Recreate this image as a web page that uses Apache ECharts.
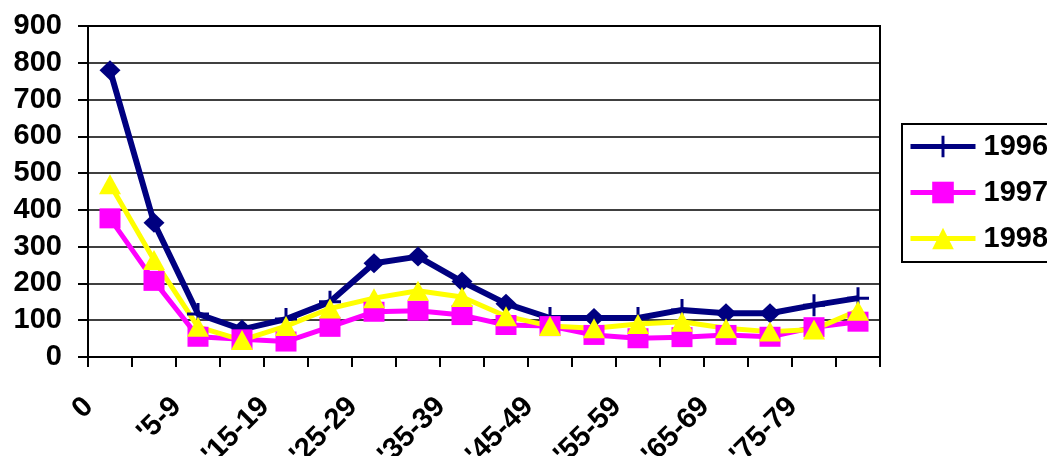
<!DOCTYPE html>
<html>
<head>
<meta charset="utf-8">
<script src="https://cdn.jsdelivr.net/npm/echarts@6/dist/echarts.min.js"></script>
<style>
html,body{margin:0;padding:0;background:#fff;}
#chart{width:1047px;height:456px;}
</style>
</head>
<body>
<div id="chart"></div>
<script>
// ---- data ----
const categories = ["0", "'1-4", "'5-9", "'10-14", "'15-19", "'20-24", "'25-29", "'30-34", "'35-39", "'40-44", "'45-49", "'50-54", "'55-59", "'60-64", "'65-69", "'70-74", "'75-79", "'80+"];
const seriesNames = ["1996", "1997", "1998"];
const values1996 = [780, 365, 117, 75, 103, 150, 255, 273, 205, 145, 106, 106, 106, 128, 119, 119, 141, 160];
const values1997 = [377, 207, 55, 48, 42, 82, 123, 126, 114, 87, 84, 60, 51, 54, 60, 55, 81, 96];
const values1998 = [470, 264, 82, 46, 84, 132, 160, 180, 163, 111, 84, 78, 90, 96, 78, 69, 75, 126];
const yTicks = { min: 0, max: 900, interval: 100 };

// style: which points of 1996 show a diamond instead of the plus marker
const diamondPoints1996 = [0, 1, 3, 6, 7, 8, 9, 11, 14, 15];
const plusPath = 'path://M9.5,0H12.5V9.5H22V12.5H12.5V22H9.5V12.5H0V9.5H9.5Z';
const FONT = '"Liberation Sans", Arial, sans-serif';

const chart = echarts.init(document.getElementById('chart'), null, { renderer: 'canvas' });

const data1996 = values1996.map((v, i) =>
  diamondPoints1996.indexOf(i) >= 0 ? { value: v, symbol: 'diamond', symbolSize: [21, 20] } : v);

chart.setOption({
  animation: false,
  backgroundColor: '#fff',
  grid: {
    left: 88, right: 167, top: 26, bottom: 99,
    outerBoundsMode: 'none', containLabel: false,
    show: true, borderColor: '#000', borderWidth: 2, backgroundColor: 'transparent'
  },
  legend: {
    orient: 'vertical',
    left: 902, top: 124,
    padding: [8, 40, 9, 6],
    borderColor: '#000', borderWidth: 2,
    itemWidth: 65, itemHeight: 27, itemGap: 17,
    lineStyle: { width: 5 },
    textStyle: { fontFamily: FONT, fontWeight: 'bold', fontSize: 29, color: '#000', lineHeight: 28, padding: [0, 0, 0, 3] },
    data: seriesNames
  },
  xAxis: {
    type: 'category',
    data: categories,
    boundaryGap: true,
    axisLine: { lineStyle: { color: '#000', width: 2 } },
    axisTick: { show: true, interval: 0, length: 10, lineStyle: { color: '#000', width: 2 } },
    axisLabel: {
      interval: 1, rotate: 45, margin: 24, padding: [0, 30, 0, 0],
      fontFamily: FONT, fontWeight: 'bold', fontSize: 29, color: '#000'
    },
    splitLine: { show: false }
  },
  yAxis: {
    type: 'value',
    min: yTicks.min, max: yTicks.max, interval: yTicks.interval,
    axisLine: { show: true, lineStyle: { color: '#000', width: 2 } },
    axisTick: { show: true, length: 10, lineStyle: { color: '#000', width: 2 } },
    axisLabel: { margin: 26, fontFamily: FONT, fontWeight: 'bold', fontSize: 29, color: '#000' },
    splitLine: { show: true, lineStyle: { color: '#000', width: 1.5 } }
  },
  series: [
    {
      name: seriesNames[0], type: 'line', data: data1996,
      symbol: plusPath, symbolSize: 22, showAllSymbol: true,
      itemStyle: { color: '#000080' },
      lineStyle: { color: '#000080', width: 6 }
    },
    {
      name: seriesNames[1], type: 'line', data: values1997,
      symbol: 'rect', symbolSize: [21, 20], showAllSymbol: true,
      itemStyle: { color: '#FF00FF' },
      lineStyle: { color: '#FF00FF', width: 5 }
    },
    {
      name: seriesNames[2], type: 'line', data: values1998,
      symbol: 'triangle', symbolSize: [22, 20], showAllSymbol: true,
      itemStyle: { color: '#FFFF00' },
      lineStyle: { color: '#FFFF00', width: 5 }
    }
  ]
});
</script>
</body>
</html>
